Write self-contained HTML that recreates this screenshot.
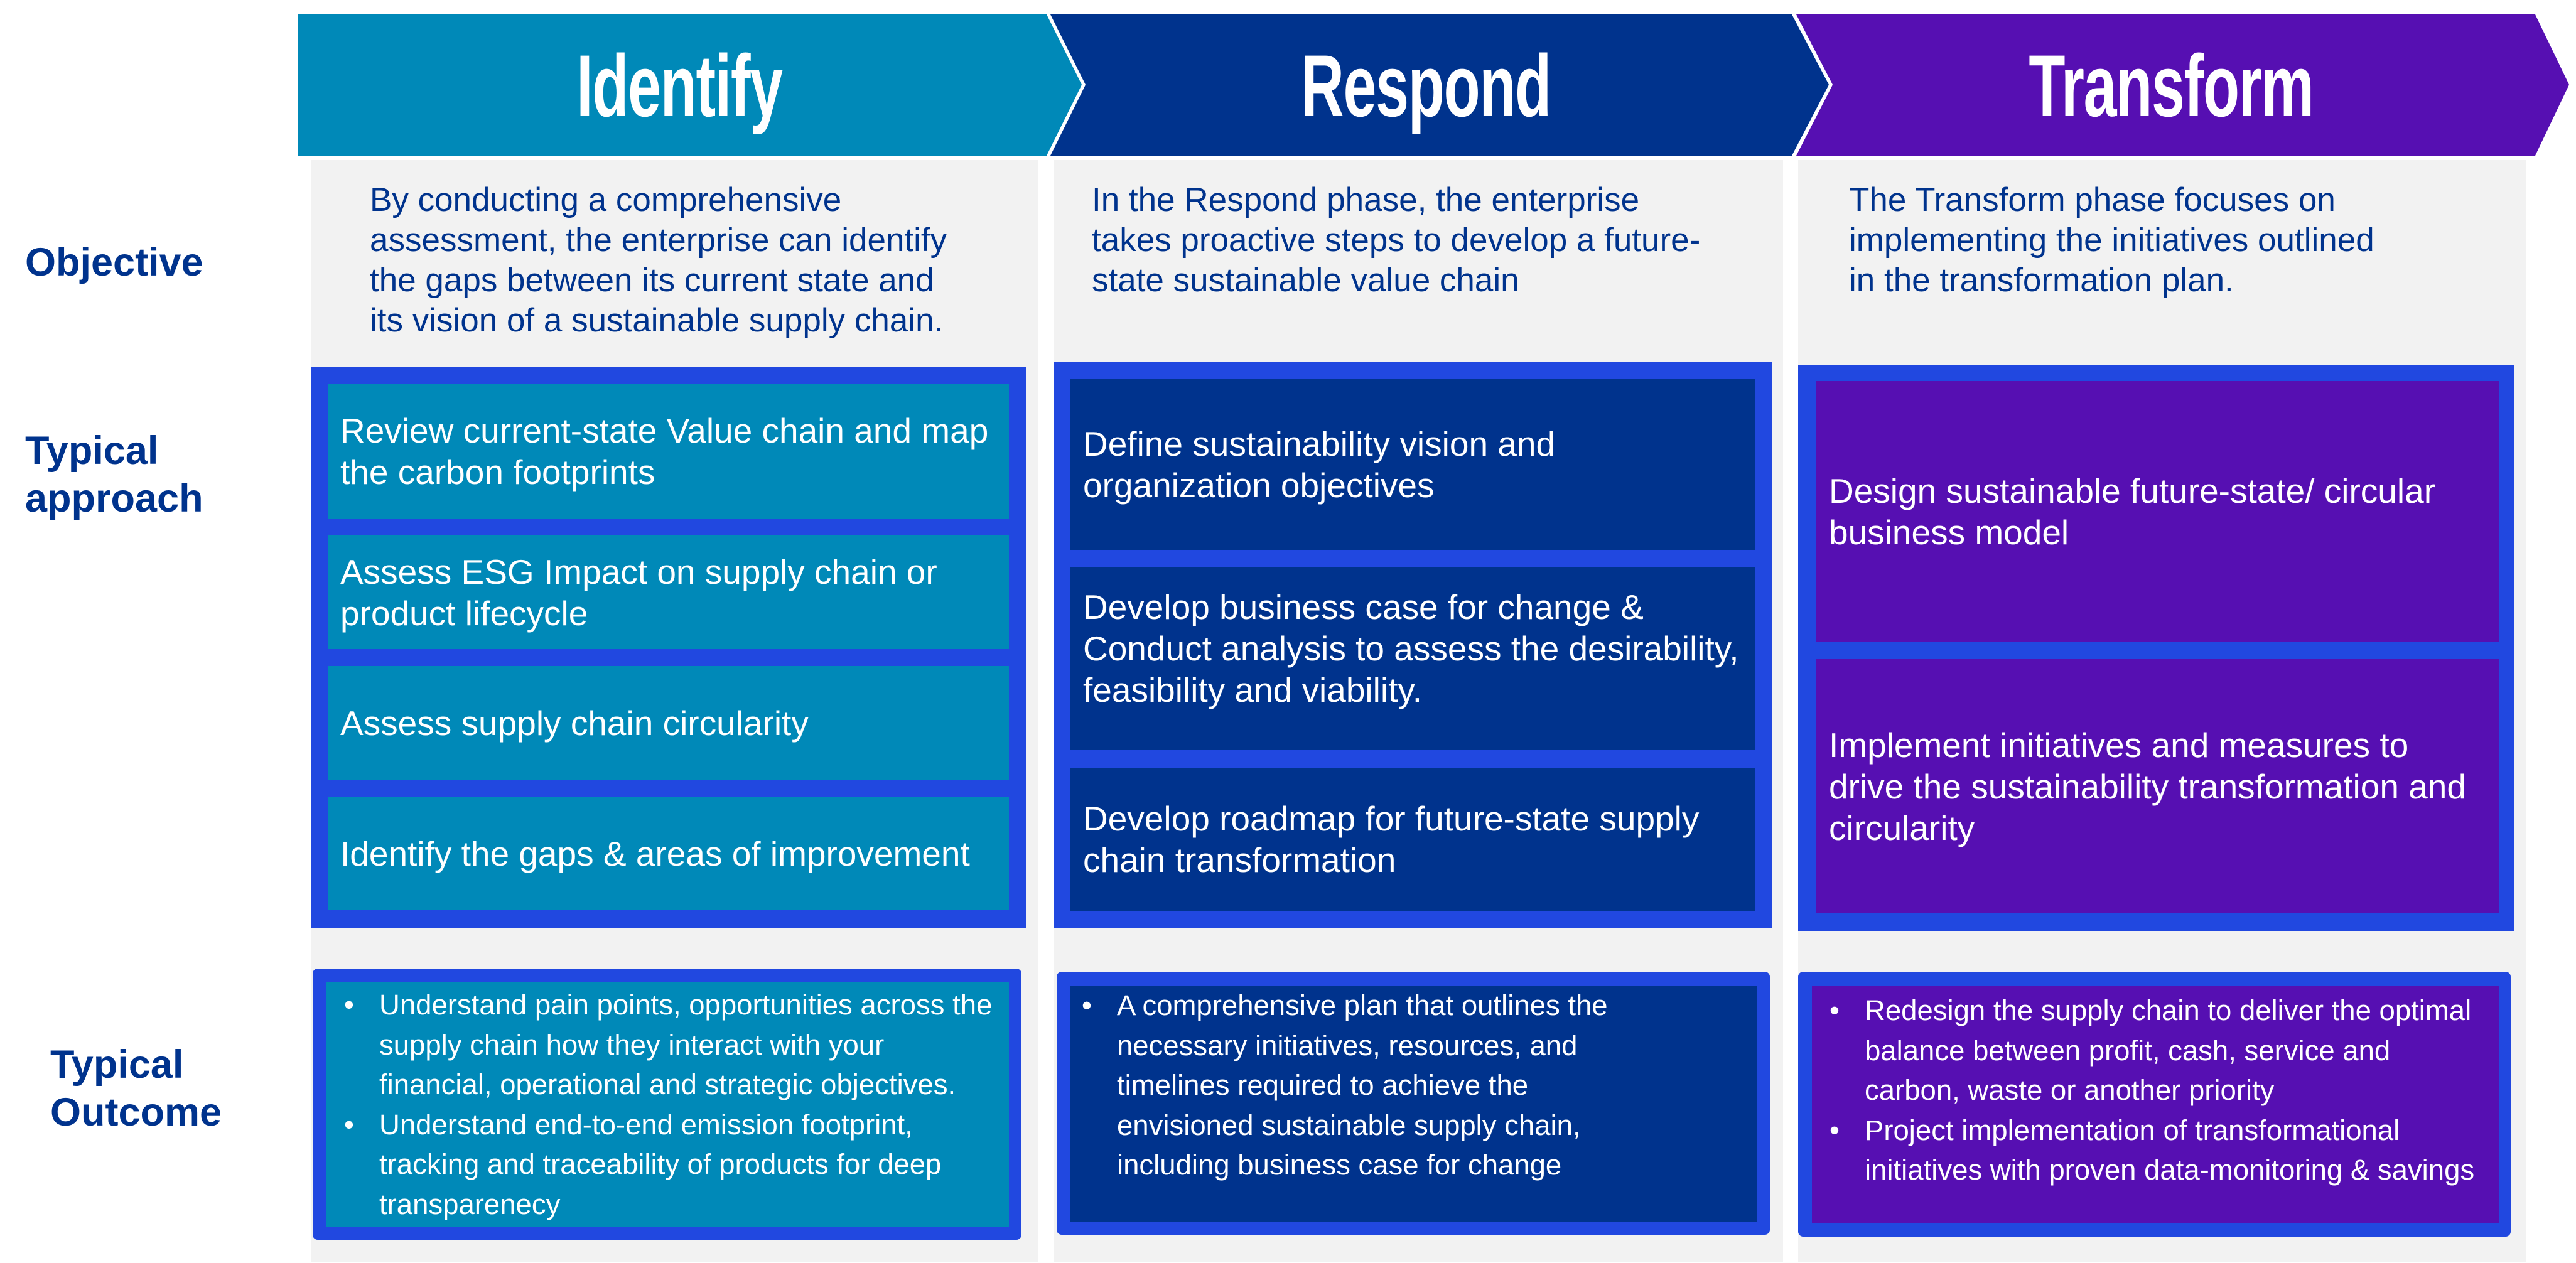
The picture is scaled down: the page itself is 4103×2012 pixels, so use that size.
<!DOCTYPE html>
<html><head><meta charset="utf-8"><style>
*{margin:0;padding:0;box-sizing:border-box}
body{width:4103px;height:2012px;background:#fff;position:relative;overflow:hidden;font-family:"Liberation Sans",Arial,sans-serif}
.a{position:absolute}
.gray{background:#F2F2F2}
.outer{background:#2148E0}
.box{display:flex;align-items:center;color:#fff;font-size:55px;line-height:66px;padding-left:20px;white-space:nowrap}
.teal{background:#0089B8}
.navy{background:#00338D}
.purp{background:#560FB2}
.obj{color:#00338D;font-size:53px;line-height:64px;white-space:nowrap}
.lab{color:#00338D;font-weight:bold;font-size:63px;line-height:76px}
.out{color:#fff;font-size:45.5px;line-height:63.5px;white-space:nowrap}
.out ul{list-style:none}
.out li{position:relative;padding-left:56px}
.out li:before{content:"•";position:absolute;left:0}
.hd{position:absolute;top:52px;height:170px;color:#fff;font-family:"Liberation Sans Narrow","Liberation Sans",sans-serif;font-weight:bold;font-size:140px;line-height:170px;transform:translateX(-50%) scaleX(0.68);white-space:nowrap;letter-spacing:-2px}
</style></head><body>
<svg class="a" style="left:0;top:0" width="4103" height="260">
<polygon points="475,23 1667,23 1723,135 1667,248 475,248" fill="#0089B8"/>
<polygon points="1673,23 2854,23 2913,135 2854,248 1673,248 1729,135" fill="#00338D"/>
<polygon points="2861,23 4038,23 4092,135 4038,248 2861,248 2919,135" fill="#560FB2"/>
</svg>
<div class="hd" style="left:1082px">Identify</div>
<div class="hd" style="left:2271px">Respond</div>
<div class="hd" style="left:3458px">Transform</div>

<div class="a gray" style="left:495px;top:255px;width:1159px;height:1755px"></div>
<div class="a gray" style="left:1678px;top:255px;width:1162px;height:1755px"></div>
<div class="a gray" style="left:2864px;top:255px;width:1160px;height:1755px"></div>

<div class="a lab" style="left:40px;top:380px">Objective</div>
<div class="a lab" style="left:40px;top:680px">Typical<br>approach</div>
<div class="a lab" style="left:80px;top:1658px">Typical<br>Outcome</div>

<div class="a obj" style="left:589px;top:287px">By conducting a comprehensive<br>assessment, the enterprise can identify<br>the gaps between its current state and<br>its vision of a sustainable supply chain.</div>
<div class="a obj" style="left:1739px;top:287px">In the Respond phase, the enterprise<br>takes proactive steps to develop a future-<br>state sustainable value chain</div>
<div class="a obj" style="left:2945px;top:287px">The Transform phase focuses on<br>implementing the initiatives outlined<br>in the transformation plan.</div>

<div class="a outer" style="left:495px;top:584px;width:1139px;height:894px"></div>
<div class="a box teal" style="left:522px;top:612px;width:1085px;height:214px">Review current-state Value chain and map<br>the carbon footprints</div>
<div class="a box teal" style="left:522px;top:853px;width:1085px;height:181px">Assess ESG Impact on supply chain or<br>product lifecycle</div>
<div class="a box teal" style="left:522px;top:1061px;width:1085px;height:181px">Assess supply chain circularity</div>
<div class="a box teal" style="left:522px;top:1270px;width:1085px;height:180px">Identify the gaps &amp; areas of improvement</div>

<div class="a outer" style="left:1678px;top:576px;width:1145px;height:902px"></div>
<div class="a box navy" style="left:1705px;top:603px;width:1090px;height:273px">Define sustainability vision and<br>organization objectives</div>
<div class="a box navy" style="left:1705px;top:904px;width:1090px;height:291px;align-items:flex-start;padding-top:30px">Develop business case for change &amp;<br>Conduct analysis to assess the desirability,<br>feasibility and viability.</div>
<div class="a box navy" style="left:1705px;top:1223px;width:1090px;height:228px">Develop roadmap for future-state supply<br>chain transformation</div>

<div class="a outer" style="left:2864px;top:581px;width:1141px;height:902px"></div>
<div class="a box purp" style="left:2893px;top:607px;width:1087px;height:416px">Design sustainable future-state/ circular<br>business model</div>
<div class="a box purp" style="left:2893px;top:1050px;width:1087px;height:405px">Implement initiatives and measures to<br>drive the sustainability transformation and<br>circularity</div>

<div class="a outer" style="left:498px;top:1543px;width:1129px;height:432px;border-radius:8px"></div>
<div class="a teal out" style="left:520px;top:1565px;width:1087px;height:389px;padding:4px 0 0 28px;overflow:hidden"><ul><li>Understand pain points, opportunities across the<br>supply chain how they interact with your<br>financial, operational and strategic objectives.</li><li>Understand end-to-end emission footprint,<br>tracking and traceability of products for deep<br>transparenecy</li></ul></div>

<div class="a outer" style="left:1683px;top:1548px;width:1136px;height:419px;border-radius:8px"></div>
<div class="a navy out" style="left:1705px;top:1570px;width:1094px;height:376px;padding:0 0 0 18px"><ul><li>A comprehensive plan that outlines the<br>necessary initiatives, resources, and<br>timelines required to achieve the<br>envisioned sustainable supply chain,<br>including business case for change</li></ul></div>

<div class="a outer" style="left:2864px;top:1548px;width:1135px;height:422px;border-radius:8px"></div>
<div class="a purp out" style="left:2886px;top:1570px;width:1094px;height:378px;padding:8px 0 0 28px"><ul><li>Redesign the supply chain to deliver the optimal<br>balance between profit, cash, service and<br>carbon, waste or another priority</li><li>Project implementation of transformational<br>initiatives with proven data-monitoring &amp; savings</li></ul></div>
</body></html>
